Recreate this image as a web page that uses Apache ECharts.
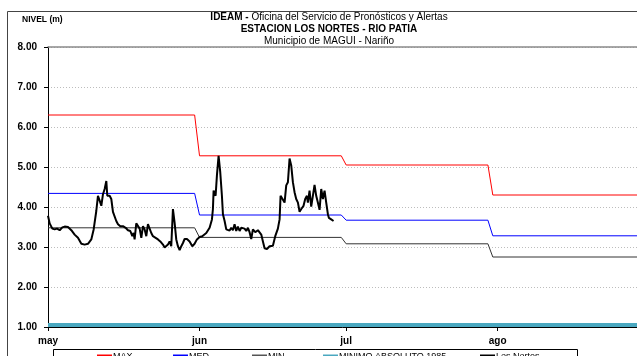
<!DOCTYPE html>
<html>
<head>
<meta charset="utf-8">
<script src="https://cdn.jsdelivr.net/npm/echarts@6/dist/echarts.min.js"></script>
<style>
  html, body { margin: 0; padding: 0; background: #fff; }
  #chart { width: 637px; height: 356px; }
</style>
</head>
<body>
<div id="chart"></div>
<script>
// Days counted from 1 May; month ticks and names on the time axis
const monthStarts = [0, 31, 61, 92];
const monthNames = ['may', 'jun', 'jul', 'ago'];

// Reference levels (m) per month: [day, level]
const maxLevels = [[0, 6.30], [30, 6.30], [31, 5.28], [60, 5.28], [61, 5.05], [90, 5.05], [91, 4.30], [120.5, 4.30]];
const medLevels = [[0, 4.34], [30, 4.34], [31, 3.80], [60, 3.80], [61, 3.67], [90, 3.67], [91, 3.28], [120.5, 3.28]];
const minLevels = [[0, 3.48], [30, 3.48], [31, 3.24], [60, 3.24], [61, 3.08], [90, 3.08], [91, 2.75], [120.5, 2.75]];
const absMinDays = [0, 120.5];
const absMinLevel = 1.05;

// Observed stage at Los Nortes
const obsDays = [0,0.34,0.89,1.36,1.84,2.39,2.93,3.41,4.09,4.77,5.45,6.13,6.82,7.50,8.18,8.86,9.34,9.88,10.22,10.57,
  10.91,11.25,11.59,11.93,12.13,12.61,12.95,13.29,13.63,13.97,14.32,14.79,15.34,15.88,16.36,16.84,17.25,17.52,17.72,18.06,
  18.40,18.75,19.09,19.43,19.77,20.11,20.45,20.79,21.13,21.47,22.02,22.50,22.97,23.52,23.86,24.20,24.54,24.88,25.22,25.56,
  25.90,26.24,26.58,26.93,27.27,27.61,27.95,28.43,28.97,29.52,29.99,30.47,31.02,31.56,32.38,33.06,33.54,33.74,33.88,34.29,
  34.56,34.90,35.24,35.58,35.79,36.13,36.47,36.81,37.15,37.49,37.83,38.17,38.51,38.85,39.20,39.54,39.88,40.22,40.56,40.90,
  41.24,41.58,41.92,42.40,42.94,43.29,43.63,43.97,44.31,44.79,45.33,46.01,46.49,47.03,47.38,47.58,47.92,48.40,48.74,49.08,
  49.42,49.76,50.10,50.44,50.78,51.13,51.47,51.81,52.28,52.62,52.97,53.17,53.51,53.85,54.19,54.53,54.87,55.21,55.56,55.90,
  56.24,56.58,56.92,57.26,57.46,57.94,58.42];
const obsLevels = [3.78,3.59,3.46,3.44,3.46,3.42,3.49,3.51,3.50,3.42,
  3.31,3.23,3.08,3.06,3.08,3.19,3.44,3.90,4.28,4.16,
  4.03,4.32,4.45,4.65,4.28,4.28,4.20,3.88,3.86,3.65,
  3.57,3.52,3.52,3.48,3.42,3.40,3.27,3.35,3.19,3.59,
  3.54,3.46,3.23,3.52,3.44,3.27,3.57,3.62,3.35,3.27,
  3.23,3.19,3.14,3.06,2.99,3.03,3.06,3.14,3.02,3.95,
  3.61,3.19,3.02,2.92,3.02,3.10,3.20,3.20,3.14,3.02,
  3.08,3.19,3.25,3.27,3.35,3.48,3.69,3.95,4.41,4.28,
  4.79,5.28,4.87,4.28,3.82,3.65,3.44,3.44,3.41,3.48,
  3.42,3.57,3.40,3.51,3.40,3.48,3.44,3.46,3.40,3.48,
  3.37,3.20,3.44,3.37,3.42,3.37,3.31,3.14,2.97,2.95,
  3.02,3.03,3.27,3.46,3.69,4.28,4.32,4.11,4.54,4.62,
  5.21,5.04,4.62,4.37,4.20,4.11,3.88,3.95,4.03,4.20,
  4.28,4.11,4.41,4.01,4.28,4.55,4.28,4.11,3.93,4.45,
  4.20,4.41,4.11,3.82,3.73,3.69,3.65];

const yTicks = { min: 1, max: 8, step: 1 };

const seriesNames = ['MAX', 'MED', 'MIN', 'MINIMO ABSOLUTO 1985', 'Los Nortes'];
// Left edge of each legend entry inside the legend box
const legendLefts = [97, 173, 252, 323, 480];

const FONT = '"Liberation Sans", Arial, sans-serif';

const chart = echarts.init(document.getElementById('chart'), null, { renderer: 'canvas' });

chart.setOption({
  animation: false,
  backgroundColor: '#ffffff',
  textStyle: { fontFamily: FONT },
  graphic: [{
    type: 'rect',
    silent: true,
    shape: { x: 7.5, y: 11.5, width: 700, height: 400 },
    style: { fill: 'none', stroke: '#444', lineWidth: 1 }
  }, {
    type: 'rect',
    silent: true,
    shape: { x: 53.5, y: 349.5, width: 524, height: 30 },
    style: { fill: 'none', stroke: '#000', lineWidth: 1 }
  }],
  title: [{
    left: 329,
    top: 11,
    padding: 0,
    textAlign: 'center',
    text: '{b|IDEAM - }{n|Oficina del Servicio de Pronósticos y Alertas}\n{b|ESTACION LOS NORTES - RIO PATIA}\n{n|Municipio de MAGUI - Nariño}',
    textStyle: {
      align: 'center',
      lineHeight: 12,
      rich: {
        b: { fontFamily: FONT, fontSize: 10, fontWeight: 'bold', color: '#000', lineHeight: 12 },
        n: { fontFamily: FONT, fontSize: 10, fontWeight: 'normal', color: '#000', lineHeight: 12 }
      }
    }
  }, {
    left: 22,
    top: 15,
    padding: 0,
    text: '{b|NIVEL }{n|(m)}',
    textStyle: {
      rich: {
        b: { fontFamily: FONT, fontSize: 8.5, fontWeight: 'bold', color: '#000' },
        n: { fontFamily: FONT, fontSize: 8.5, color: '#000' }
      }
    }
  }],
  legend: seriesNames.map((name, i) => ({
    left: legendLefts[i],
    top: 352,
    padding: 0,
    itemWidth: 15,
    itemHeight: 4,
    textStyle: { fontFamily: FONT, fontSize: 9, color: '#000', padding: [0, 0, 0, -4] },
    data: [{ name: name, icon: 'rect' }]
  })),
  grid: { left: 48, right: 0, top: 47, bottom: 29 },
  xAxis: [{
    type: 'value',
    min: 0,
    max: 120.5,
    axisLine: { show: true, onZero: false, lineStyle: { color: '#000', width: 1 } },
    axisTick: { show: true, customValues: monthStarts, length: 4, lineStyle: { color: '#000' } },
    axisLabel: {
      customValues: monthStarts,
      formatter: v => monthNames[monthStarts.indexOf(Math.round(v))] || '',
      fontFamily: FONT, fontSize: 10, fontWeight: 'bold', color: '#000', margin: 9
    },
    splitLine: { show: false }
  }, {
    type: 'value',
    position: 'top',
    min: 0,
    max: 120.5,
    axisLine: { show: true, onZero: false, lineStyle: { color: '#8a8a8a', width: 1.5 } },
    axisTick: { show: false },
    axisLabel: { show: false },
    splitLine: { show: false }
  }],
  yAxis: {
    type: 'value',
    min: yTicks.min,
    max: yTicks.max,
    interval: yTicks.step,
    axisLine: { show: true, lineStyle: { color: '#000', width: 1 } },
    axisTick: { show: true, length: 4, lineStyle: { color: '#000' } },
    axisLabel: {
      formatter: v => v.toFixed(2),
      fontFamily: FONT, fontSize: 10, fontWeight: 'bold', color: '#000', margin: 11
    },
    splitLine: { show: true, lineStyle: { color: '#bdbdbd', type: [1, 2], width: 1 } }
  },
  series: [{
    name: 'MAX',
    type: 'line',
    data: maxLevels,
    symbol: 'none',
    color: '#ff0000',
    lineStyle: { color: '#ff0000', width: 1 },
    z: 3
  }, {
    name: 'MED',
    type: 'line',
    data: medLevels,
    symbol: 'none',
    color: '#0000ff',
    lineStyle: { color: '#0000ff', width: 1 },
    z: 3
  }, {
    name: 'MIN',
    type: 'line',
    data: minLevels,
    symbol: 'none',
    color: '#555555',
    lineStyle: { color: '#333333', width: 1 },
    z: 3
  }, {
    name: 'MINIMO ABSOLUTO 1985',
    type: 'line',
    data: absMinDays.map(d => [d, absMinLevel]),
    symbol: 'none',
    color: '#4aa8c0',
    lineStyle: { color: '#4aa8c0', width: 4 },
    z: 2
  }, {
    name: 'Los Nortes',
    type: 'line',
    data: obsDays.map((d, i) => [d, obsLevels[i]]),
    symbol: 'none',
    color: '#000000',
    lineStyle: { color: '#000000', width: 2 },
    z: 4
  }]
});
</script>
</body>
</html>
